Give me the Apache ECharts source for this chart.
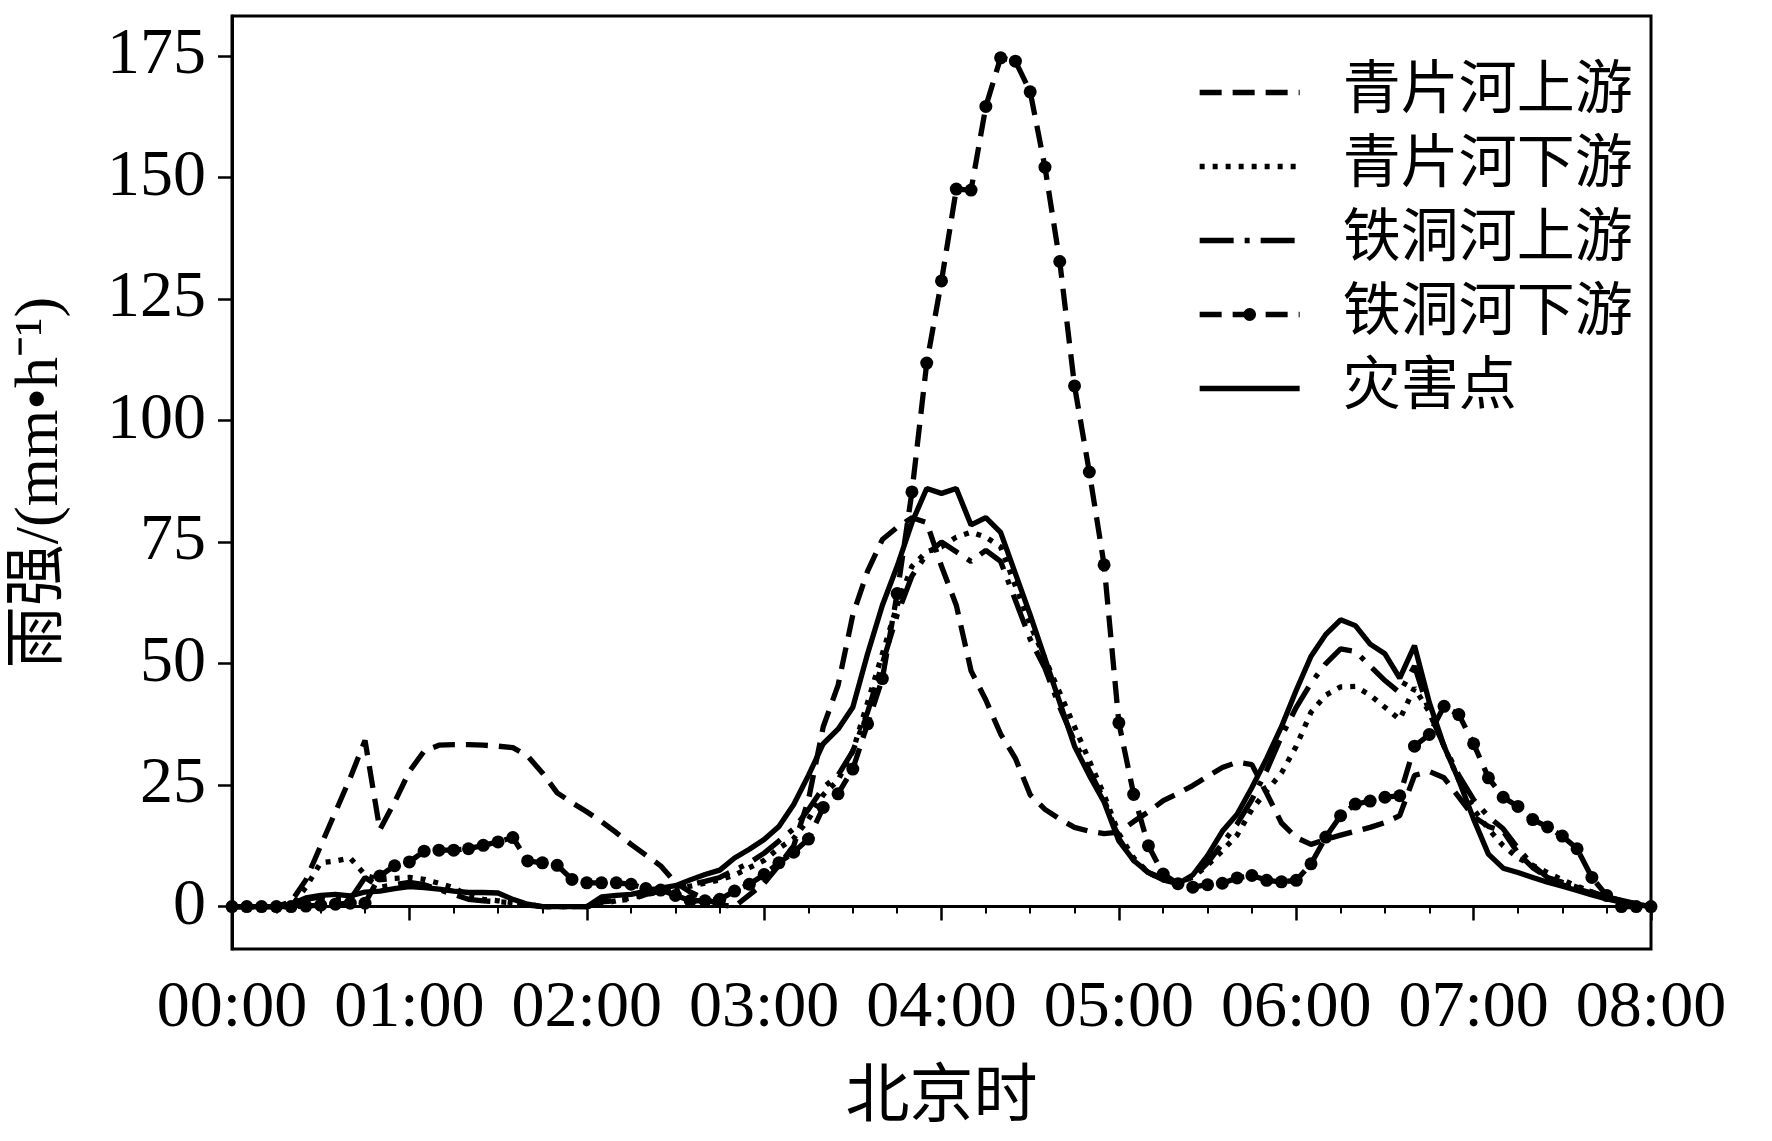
<!DOCTYPE html>
<html><head><meta charset="utf-8">
<script src="https://cdn.jsdelivr.net/npm/echarts@6/dist/echarts.min.js"></script>
<style>html,body{margin:0;padding:0;background:#fff}#c{width:1772px;height:1141px}</style>
</head><body><div id="c"></div>
<script>
// time in minutes after 00:00 (5-min samples)
const times = [0,5,10,15,20,25,30,35,40,45,50,55,60,65,70,75,80,85,90,95,100,105,110,115,120,125,130,135,140,145,150,155,160,165,170,175,180,185,190,195,200,205,210,215,220,225,230,235,240,245,250,255,260,265,270,275,280,285,290,295,300,305,310,315,320,325,330,335,340,345,350,355,360,365,370,375,380,385,390,395,400,405,410,415,420,425,430,435,440,445,450,455,460,465,470,475,480];
const seriesNames = ['青片河上游','青片河下游','铁洞河上游','铁洞河下游','灾害点'];
const qingpianUp = [0,0,0,0,1,5.5,12.5,19.5,26.5,34.2,
15.8,21.5,27.8,32,33.2,33.3,33.3,33.2,33,32.7,
31,27.5,23.4,21.4,19.5,17.5,15.2,12.8,10.6,8.4,
4.9,3,1.6,0.4,0,2.4,4.8,8.5,12.5,22,
37,45.5,60,69,75.5,78,80,79,70,62,
48.5,42.5,35.5,30.5,23,20,18,16.3,15.5,15,
15.3,17.5,19.5,21.8,23.3,24.9,26.8,28.6,29.7,29.2,
23.3,17.2,14.2,12.8,13.8,14.7,15.5,16.3,17.3,18.7,
27,27.8,26.5,22.5,18.5,16.5,15.5,11,8,6,
4.5,3.6,2.8,2,1.3,0.6,0];
const qingpianDown = [0,0,0,0,0,4,9,9.4,10,6.5,
5.5,5.8,6,5.6,4.8,3.9,2.2,1.5,1.2,0.8,
0.5,0,0,0,0,0.5,1.2,1.8,2.5,3,
3.5,4.2,4.8,5.5,6.5,8,9.5,12,14,18,
23,26,32,42,52,62,70,73,74,76,
77,76,74,66,58,51,44,37,30,23,
15,10,7,5.5,5,6,8.5,11.5,14.7,20,
23.8,27.5,33,40,43.5,45.2,45.3,43.5,41,38.5,
45,40,33,26,20,16,12.5,10,8.5,7,
5.5,4.2,3,2,1.2,0.5,0];
const tiedongUp = [0,0,0,0,0,1.5,2,1.5,1.5,6,
4,4.5,5,4.5,3.5,2.5,1.5,1.2,1,0.8,
0.3,0,0,0,0,1,1.2,1.5,2.5,3.2,
3.8,4.5,5.2,6,7.5,9,11,13.5,16,20,
24.5,27,32,40,50,60,68,72.5,75,73,
71,73.3,71,63,55,49,41,34,28,22,
14,9.5,7,5.8,5,6,9,13,17,22,
28,35,41,46,50,53,52.5,49.5,46.5,44,
49.5,40,33,27,22,18.5,16,12,8.5,6,
5,4,3,2,1.2,0.5,0];
const tiedongDown = [0,0,0,0,0,0.1,0.3,0.5,0.7,0.7,
6.3,8.4,9.2,11.4,11.6,11.6,11.9,12.6,13.3,14.2,
9.4,9,8.5,5.6,4.9,4.9,4.9,4.6,3.7,3.4,
2.3,1.2,1.2,1.5,3.2,4.6,6.6,9,11.2,13.9,
20.4,23.2,28.3,37.6,46.9,64.4,85.3,111.8,128.7,147.6,
147.4,164.6,174.6,173.9,167.6,152.1,132.7,107.1,89.4,70.3,
37.8,23.1,12.5,6.7,4.7,4,4.5,4.8,5.9,6.4,
5.4,5.1,5.4,8.8,14.3,18.7,21.1,21.7,22.5,22.8,
33,35.4,41.2,39.5,33.5,26.5,22.5,20.6,17.9,16.4,
14.5,11.9,6,2.3,0,0,0];
const disasterSite = [0,0,0,0,0.5,1.8,2.3,2.5,2.2,3,
3.2,3.7,4.1,3.9,3.6,3.2,2.9,2.9,2.8,1.5,
0.5,0,0,0,0,2,2.3,2.5,3.2,3.8,
4.3,5.5,6.6,7.5,10,11.8,13.8,16.5,21,27,
33.5,36.5,41,52,62,70,79,86,85,86,
78.5,80,77,68.5,60,51,42,33,27,21.5,
13.5,9.5,7,5.5,4.7,6.5,10.5,15.5,19,24.5,
30.5,37,44.5,51.5,56,59,57.8,54,52,47,
53.7,42,33,26,18,10.8,7.9,7,6,5,
4.2,3.3,2.4,1.6,0.9,0.4,0];
const yTicks = [0,25,50,75,100,125,150,175];
const xTickValues = [0,60,120,180,240,300,360,420,480];
const xTickLabels = ['00:00','01:00','02:00','03:00','04:00','05:00','06:00','07:00','08:00'];

const SERIF = '"Liberation Serif","DejaVu Serif","Noto Sans CJK SC",serif';
const CJK = '"Liberation Serif","Noto Sans CJK SC",serif';
const allValues = [qingpianUp, qingpianDown, tiedongUp, tiedongDown, disasterSite];
const dashTypes = [[22,11],[5,8],[34,11,5,11],[22,11],'solid'];
const LW = 5.3;
const pair = arr => times.map((t,i)=>[t, arr[i]]);

const series = seriesNames.map((name, k) => ({
  name: name,
  type: 'line',
  data: pair(allValues[k]),
  showSymbol: k === 3,
  symbol: k === 3 ? 'circle' : 'none',
  symbolSize: 13,
  itemStyle: {color: '#000'},
  lineStyle: {color: '#000', width: LW, type: dashTypes[k]},
  z: 2 + k,
  silent: true
}));

const legendData = seriesNames.map((name, k) => ({
  name: name,
  itemStyle: k === 3 ? {color: '#000', borderWidth: 0} : {color: 'rgba(0,0,0,0)', borderWidth: 0, opacity: 0},
  lineStyle: {color: '#000', width: LW, type: dashTypes[k]}
}));

const chart = echarts.init(document.getElementById('c'), null, {renderer: 'canvas'});
chart.setOption({
  animation: false,
  backgroundColor: '#fff',
  grid: {left: 232, right: 121, top: 16, bottom: 192, show: true, borderColor: '#000', borderWidth: 3, backgroundColor: 'transparent'},
  legend: {
    orient: 'vertical',
    left: 1192, top: 57,
    itemWidth: 100, itemHeight: 16, itemGap: 13,
    data: legendData,
    textStyle: {fontFamily: CJK, fontSize: 58, color: '#000', lineHeight: 61, padding: [0,0,0,38]},
    selectedMode: false
  },
  xAxis: {
    type: 'value', min: 0, max: 480, interval: 60,
    name: '北京时', nameLocation: 'middle', nameGap: 118,
    nameTextStyle: {fontFamily: CJK, fontSize: 64, color: '#000'},
    axisLine: {show: true, lineStyle: {color: '#000', width: 3}},
    axisTick: {show: true, length: 14, lineStyle: {color: '#000', width: 2.5}},
    minorTick: {show: true, splitNumber: 4, length: 7, lineStyle: {color: '#000', width: 2}},
    axisLabel: {margin: 27, fontFamily: SERIF, fontSize: 66, color: '#000',
      formatter: v => xTickLabels[xTickValues.indexOf(v)]},
    splitLine: {show: false}
  },
  yAxis: {
    type: 'value', min: -8.72, max: 183.2,
    name: '雨强/(mm•h⁻¹)', nameLocation: 'middle', nameGap: 160, nameRotate: 90,
    nameTextStyle: {fontFamily: CJK, fontSize: 62, color: '#000'},
    axisLine: {show: true, lineStyle: {color: '#000', width: 3}},
    axisTick: {show: true, length: 14, lineStyle: {color: '#000', width: 2.5}, customValues: yTicks},
    axisLabel: {margin: 26, fontFamily: SERIF, fontSize: 66, color: '#000', customValues: yTicks},
    splitLine: {show: false}
  },
  series: series
});
</script>
</body></html>
